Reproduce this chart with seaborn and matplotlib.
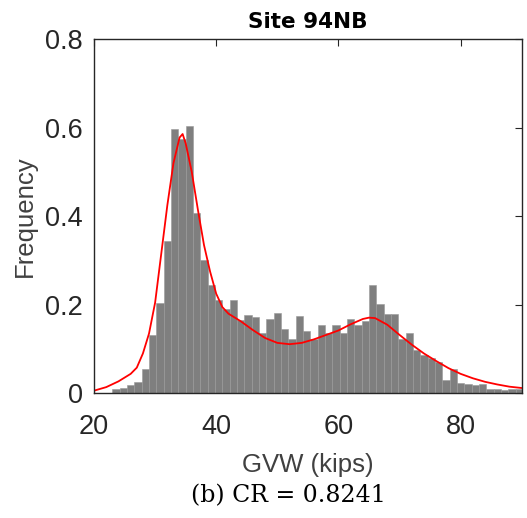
import numpy as np
import pandas as pd
import seaborn as sns
import matplotlib.pyplot as plt

# histogram bins (kips): left edge of first bin and bin width
bin_start = 23.0
bin_width = 1.2
# bar heights
freq = [0.009, 0.013, 0.018, 0.025, 0.054, 0.132, 0.205, 0.344, 0.597, 0.575,
        0.605, 0.407, 0.301, 0.245, 0.212, 0.190, 0.212, 0.165, 0.176, 0.172,
        0.136, 0.167, 0.182, 0.145, 0.122, 0.174, 0.140, 0.122, 0.154, 0.137,
        0.154, 0.137, 0.169, 0.154, 0.163, 0.245, 0.201, 0.179, 0.179, 0.122,
        0.137, 0.098, 0.086, 0.080, 0.070, 0.030, 0.056, 0.024, 0.021, 0.019,
        0.021, 0.010, 0.010, 0.008, 0.009, 0.009]

# fitted distribution (red curve)
fit_x = [20, 22, 24, 26, 27, 28, 29, 30, 31, 32, 33, 34, 34.5, 35, 36, 37, 38, 39,
         40, 41, 42, 44, 46, 48, 50, 52, 54, 56, 58, 60, 62, 64, 65, 66, 68, 70,
         72, 74, 76, 78, 80, 82, 84, 86, 88, 90]
fit_y = [0.006, 0.014, 0.027, 0.044, 0.058, 0.090, 0.135, 0.205, 0.315, 0.425,
         0.520, 0.578, 0.586, 0.565, 0.500, 0.415, 0.335, 0.275, 0.225, 0.195,
         0.180, 0.163, 0.143, 0.125, 0.114, 0.111, 0.114, 0.122, 0.132, 0.142,
         0.156, 0.168, 0.171, 0.170, 0.155, 0.132, 0.110, 0.090, 0.073, 0.057,
         0.044, 0.034, 0.026, 0.020, 0.015, 0.012]

x_ticks = [20, 40, 60, 80]
y_ticks = [0, 0.2, 0.4, 0.6, 0.8]

n_bins = len(freq)
centers = bin_start + bin_width * (np.arange(n_bins) + 0.5)
hist_df = pd.DataFrame({"gvw": centers, "freq": freq})
fit_df = pd.DataFrame({"gvw": fit_x, "freq": fit_y})

sns.set_style("white")
plt.rcParams["font.family"] = ["Liberation Sans", "DejaVu Sans"]

fig = plt.figure(figsize=(5.27, 5.18), dpi=100)
ax = fig.add_axes([0.1784, 0.2407, 0.8116, 0.6834])

sns.histplot(data=hist_df, x="gvw", weights="freq", binwidth=bin_width,
             binrange=(bin_start, bin_start + bin_width * n_bins), stat="count",
             color="#7f7f7f", alpha=1, edgecolor="#9a9a9a", linewidth=0.4, ax=ax)
sns.lineplot(data=fit_df, x="gvw", y="freq", color="red", linewidth=1.3, ax=ax)

ax.set_xlim(20, 90)
ax.set_ylim(0, 0.8)
ax.set_xticks(x_ticks)
ax.set_yticks(y_ticks)
ax.set_yticklabels(["0", "0.2", "0.4", "0.6", "0.8"])
ax.tick_params(direction="in", top=True, right=True, length=5, width=0.8,
               labelsize=19.5, colors="#262626")
ax.tick_params(axis="x", pad=15)
ax.tick_params(axis="y", pad=8)
for sp in ax.spines.values():
    sp.set_color("#262626")
    sp.set_linewidth(1.0)

ax.set_xlabel("GVW (kips)", fontsize=18.5, color="#404040", labelpad=9)
ax.set_ylabel("Frequency", fontsize=18.5, color="#404040", labelpad=6)
ax.set_title("Site 94NB", family="DejaVu Sans", fontsize=15.5, fontweight="bold",
             color="black", pad=8)

fig.text(0.548, 0.044, "(b) CR = 0.8241", family="DejaVu Serif", fontsize=17,
         ha="center", va="center", color="black")

fig.savefig("out.png", dpi=100)
